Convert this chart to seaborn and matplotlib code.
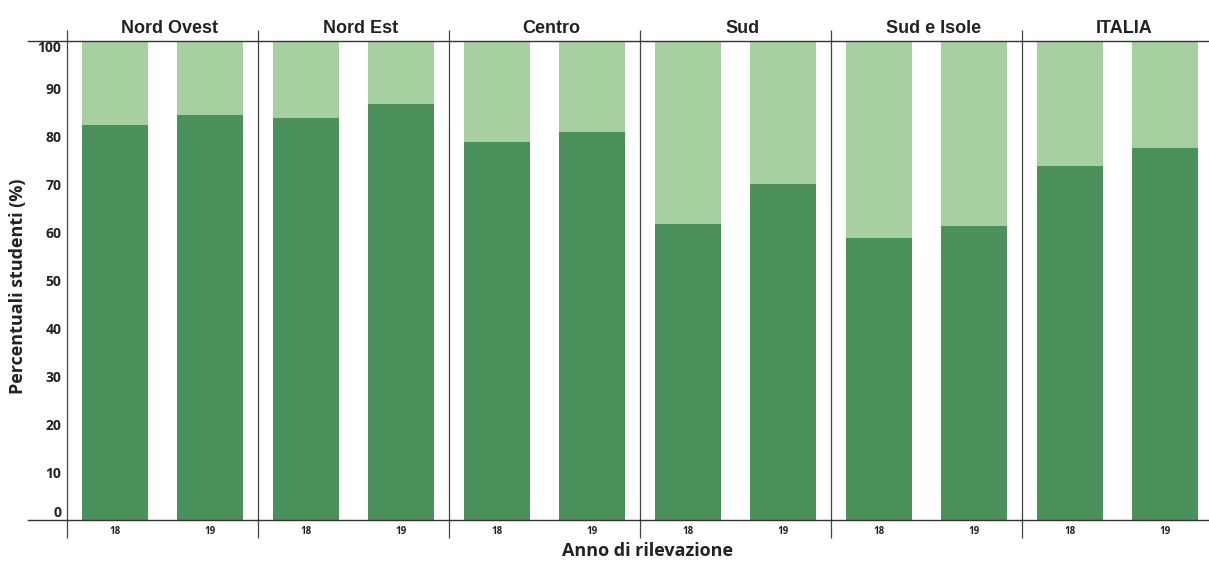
import numpy as np
import pandas as pd
import seaborn as sns
import matplotlib.pyplot as plt

# Valori (percentuale studenti, anni 2018 e 2019)
regions = ['Nord Ovest', 'Nord Est', 'Centro', 'Sud', 'Sud e Isole', 'ITALIA']
years = ['18', '19']
pct_18 = [82.4, 84.0, 79.0, 61.8, 58.9, 74.0]
pct_19 = [84.5, 86.8, 80.9, 70.2, 61.4, 77.6]
yticks = [0, 10, 20, 30, 40, 50, 60, 70, 80, 90, 100]

dark = '#4a915c'
light = '#a7d0a0'

# one row per bar, x position = 2 * panel + 0.5 / 1.5
rows = []
for i, reg in enumerate(regions):
    for j, (yr, val) in enumerate(zip(years, [pct_18[i], pct_19[i]])):
        rows.append({'regione': reg, 'anno': yr, 'pos': 2 * i + 0.5 + j, 'pct': val, 'tot': 100})
df = pd.DataFrame(rows)

sns.set_style('white')
plt.rcParams['font.family'] = ['Open Sans', 'DejaVu Sans']

fig = plt.figure(figsize=(12.09, 5.61), dpi=100)
ax = fig.add_axes([28 / 1209, 41 / 561, 1 - 28 / 1209, 1 - 82 / 561])

# light background bar = 100%, dark bar = value
sns.barplot(data=df, x='pos', y='tot', native_scale=True, width=0.69, color=light,
            saturation=1, linewidth=0, ax=ax)
sns.barplot(data=df, x='pos', y='pct', native_scale=True, width=0.69, color=dark,
            saturation=1, linewidth=0, ax=ax)

ax.set_xlim(-0.41, 11.96)
ax.set_ylim(0, 100)

# panel separators
ax.vlines(np.arange(0, 12, 2), -3.8, 102.3, color='#444444', linewidth=0.9, clip_on=False)

for s in ['left', 'right']:
    ax.spines[s].set_visible(False)
for s in ['top', 'bottom']:
    ax.spines[s].set_color('#333333')
    ax.spines[s].set_linewidth(1.0)

ax.set_yticks(yticks)
ax.set_yticklabels([str(t) for t in yticks], fontsize=10, fontweight='bold', color='#222222')
ax.tick_params(axis='y', length=0, pad=-24)
labs = ax.get_yticklabels()
labs[0].set_verticalalignment('bottom')
labs[-1].set_verticalalignment('top')

ax.set_xticks(df['pos'])
ax.set_xticklabels(df['anno'], fontsize=7, fontweight='bold', color='#222222')
ax.tick_params(axis='x', length=0, pad=4)
ax.set_xlabel('')
ax.set_ylabel('')

# panel titles
for i, reg in enumerate(regions):
    ax.text(2 * i + 1.07, 101.7, reg, ha='center', va='baseline', fontsize=13,
            fontweight='bold', family='Liberation Sans', color='#222222')

fig.text(18 / 1209, 1 - 286 / 561, 'Percentuali studenti (%)', rotation=90,
         ha='center', va='center', fontsize=13, fontweight='bold', color='#222222')
fig.text(647 / 1209, 1 - 551 / 561, 'Anno di rilevazione', ha='center', va='center',
         fontsize=13, fontweight='bold', color='#222222')

fig.savefig('out.png', dpi=100)
